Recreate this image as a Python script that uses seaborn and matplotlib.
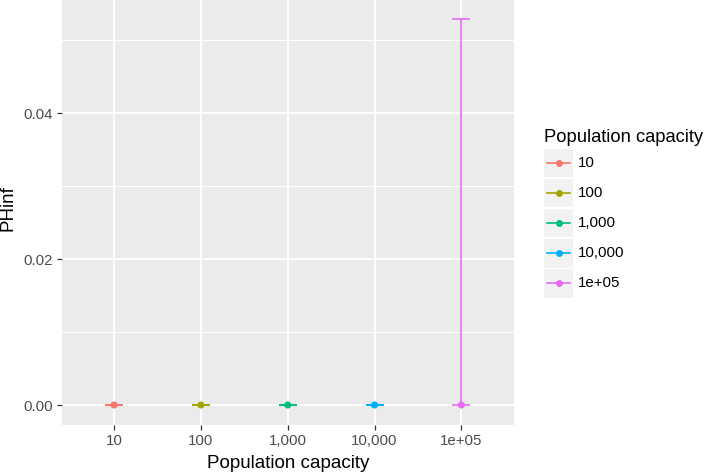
import matplotlib
matplotlib.use("Agg")
import matplotlib.pyplot as plt
import seaborn as sns
import pandas as pd
import numpy as np
from matplotlib.patches import Rectangle
from matplotlib.lines import Line2D

categories = ["10", "100", "1,000", "10,000", "1e+05"]
phinf_mean = [0.0, 0.0, 0.0, 0.0, 0.0]
phinf_low = [0.0, 0.0, 0.0, 0.0, 0.0]
phinf_high = [0.0, 0.0, 0.0, 0.0, 0.0529]
colors = ["#F8766D", "#A3A500", "#00BF7D", "#00B0F6", "#E76BF3"]
y_ticks = [0.0, 0.02, 0.04]
y_tick_labels = ["0.00", "0.02", "0.04"]

plt.rcParams["font.family"] = ["Liberation Sans", "DejaVu Sans"]

df = pd.DataFrame({"cap": categories, "PHinf": phinf_mean,
                   "low": phinf_low, "high": phinf_high})

W, H = 709, 473
fig = plt.figure(figsize=(W / 100, H / 100), dpi=100)
L, R, T, B = 62, 513.5, 0, 425
ax = fig.add_axes([L / W, 1 - B / H, (R - L) / W, (B - T) / H])
ax.set_facecolor("#EBEBEB")
for s in ax.spines.values():
    s.set_visible(False)

ax.set_xlim(-0.6, 4.6)
ax.set_ylim(-0.00274, 0.0555)
for yv in [0.01, 0.03, 0.05]:
    ax.axhline(yv, color="white", lw=0.7, zorder=0)
for yv in y_ticks:
    ax.axhline(yv, color="white", lw=1.3, zorder=0)
for xv in range(len(categories)):
    ax.axvline(xv, color="white", lw=1.3, zorder=0)

pal = dict(zip(categories, colors))
xpos = np.arange(len(categories))
for i, c in enumerate(categories):
    m = df.loc[i, "PHinf"]
    ax.errorbar(xpos[i], m, yerr=[[m - df.loc[i, "low"]], [df.loc[i, "high"] - m]],
                color=colors[i], capsize=6.5, elinewidth=1.2, capthick=1.2,
                fmt="none", zorder=2)
sns.scatterplot(data=df.assign(x=xpos), x="x", y="PHinf", hue="cap", palette=pal,
                s=26, edgecolor="none", legend=False, ax=ax, zorder=3)

ax.set_xticks(xpos)
ax.set_xticklabels(categories)
ax.set_yticks(y_ticks)
ax.set_yticklabels(y_tick_labels)
ax.tick_params(axis="both", colors="#333333", length=3.8, width=0.9,
               labelsize=10.8, labelcolor="#4D4D4D", pad=2.5)
ax.set_xlabel("Population capacity", fontsize=13.5, color="black", labelpad=5)
ax.set_ylabel("PHinf", fontsize=13.5, color="black", va="center")
ax.yaxis.set_label_coords(-(L - 8.5) / (R - L), (B - 208) / (B - T))

# legend
fig.text(544 / W, 1 - 141.7 / H, "Population capacity", fontsize=13.2,
         color="black", va="baseline", ha="left")
for i, c in enumerate(categories):
    top = 149 + i * 30
    fig.add_artist(Rectangle((544 / W, 1 - (top + 28.5) / H), 29 / W, 28.5 / H,
                             transform=fig.transFigure, facecolor="#F2F2F2",
                             edgecolor="none"))
    yc = 1 - (top + 14) / H
    fig.add_artist(Line2D([547 / W, 570 / W], [yc, yc], transform=fig.transFigure,
                          color=colors[i], lw=1.2))
    fig.add_artist(Line2D([558.5 / W], [yc], transform=fig.transFigure,
                          color=colors[i], marker="o", markersize=5,
                          markeredgewidth=0))
    fig.text(578 / W, yc, c, fontsize=10.8, color="black", va="center", ha="left")

fig.savefig("out.png", dpi=100)
